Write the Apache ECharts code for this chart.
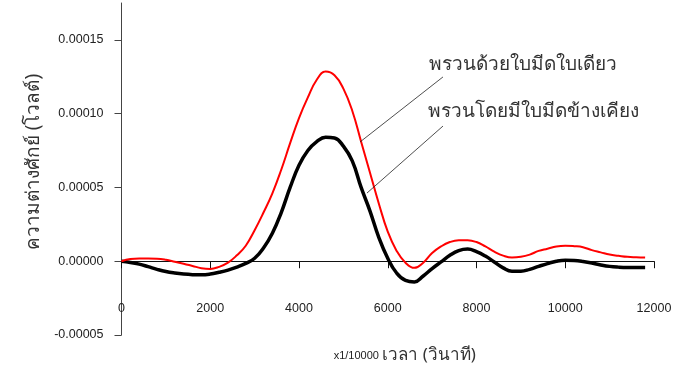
<!DOCTYPE html>
<html><head><meta charset="utf-8">
<script src="https://cdn.jsdelivr.net/npm/echarts@6/dist/echarts.min.js"></script>
<style>html,body{margin:0;padding:0;background:#fff}#c{width:689px;height:376px}</style>
</head><body><div id="c"></div>
<script>
// time axis (x1/10000 s)
const timeValues = [0,200,400,600,800,1000,1200,1400,1600,1800,2000,2200,2400,2600,2800,3000,3200,3400,3600,3800,4000,4200,4400,4600,4800,5000,5200,5400,5600,5800,6000,6200,6400,6600,6800,7000,7200,7400,7600,7800,8000,8200,8400,8600,8800,9000,9200,9400,9600,9800,10000,10200,10400,10600,10800,11000,11200,11400,11600,11800];
// single blade (red)
const redValues = [0,0.15e-5,0.18e-5,0.18e-5,0.17e-5,0.1e-5,-0.03e-5,-0.17e-5,-0.32e-5,-0.47e-5,-0.52e-5,-0.38e-5,-0.1e-5,0.4e-5,1.05e-5,2.1e-5,3.3e-5,4.6e-5,6.2e-5,8.0e-5,9.7e-5,11.1e-5,12.3e-5,12.85e-5,12.6e-5,11.7e-5,10.2e-5,8.1e-5,6.0e-5,3.9e-5,2.0e-5,0.7e-5,-0.1e-5,-0.45e-5,-0.1e-5,0.55e-5,1.0e-5,1.3e-5,1.42e-5,1.42e-5,1.3e-5,1.0e-5,0.65e-5,0.38e-5,0.25e-5,0.3e-5,0.45e-5,0.7e-5,0.85e-5,1.0e-5,1.05e-5,1.02e-5,0.95e-5,0.75e-5,0.6e-5,0.45e-5,0.37e-5,0.3e-5,0.27e-5,0.25e-5];
// with adjacent blades (black)
const blackValues = [0,-0.08e-5,-0.2e-5,-0.37e-5,-0.55e-5,-0.7e-5,-0.8e-5,-0.87e-5,-0.91e-5,-0.92e-5,-0.87e-5,-0.75e-5,-0.6e-5,-0.4e-5,-0.15e-5,0.2e-5,0.9e-5,1.9e-5,3.3e-5,5.0e-5,6.5e-5,7.5e-5,8.1e-5,8.4e-5,8.35e-5,7.8e-5,6.8e-5,5.0e-5,3.4e-5,1.6e-5,0.2e-5,-0.8e-5,-1.3e-5,-1.4e-5,-1.0e-5,-0.5e-5,-0.05e-5,0.4e-5,0.72e-5,0.82e-5,0.65e-5,0.35e-5,-0.05e-5,-0.45e-5,-0.68e-5,-0.68e-5,-0.55e-5,-0.35e-5,-0.16e-5,0.0,0.07e-5,0.05e-5,-0.02e-5,-0.12e-5,-0.25e-5,-0.35e-5,-0.4e-5,-0.42e-5,-0.42e-5,-0.42e-5];
const yTicks = [-0.00005, 0, 0.00005, 0.0001, 0.00015];
const seriesNames = ['พรวนด้วยใบมีดใบเดียว', 'พรวนโดยมีใบมีดข้างเคียง'];
const labelAnchors = [[6930, 13.3e-5], [6907, 10.15e-5]];
const leaderStarts = [[7245, 12.49e-5], [7245, 9.16e-5]];
const leaderEnds = [[5375, 8.08e-5], [5532, 4.62e-5]];

const chart = echarts.init(document.getElementById('c'), null, {renderer: 'canvas'});
const numFont = "'Liberation Sans', Arial, sans-serif";
const thaiFont = "'Noto Sans', 'DejaVu Sans', sans-serif";
const xCommon = {type: 'value', min: 0, max: 12000, interval: 2000, splitLine: {show: false}};
const option = {
  animation: false,
  backgroundColor: '#fff',
  grid: {left: 121.5, right: 35, top: 3, bottom: 41, containLabel: false, outerBoundsMode: 'none'},
  xAxis: [
    Object.assign({}, xCommon, {
      position: 'bottom',
      axisLine: {onZero: true, lineStyle: {color: '#111', width: 1}},
      axisTick: {show: true, length: 7, lineStyle: {color: '#111'}},
      axisLabel: {show: false}
    }),
    Object.assign({}, xCommon, {
      position: 'bottom',
      name: '{s|x1/10000} {b|เวลา (วินาที)}',
      nameLocation: 'middle', nameGap: 12,
      nameTextStyle: {padding: [0, 0, 0, 34], rich: {
        s: {fontSize: 11, fontFamily: numFont, color: '#222'},
        b: {fontSize: 17, fontFamily: thaiFont, color: '#333'}
      }},
      axisLine: {show: false, onZero: false},
      axisTick: {show: false},
      axisLabel: {margin: -33, fontSize: 12.5, fontFamily: numFont, color: '#222', formatter: v => String(v)}
    })
  ],
  yAxis: {
    type: 'value', min: -0.00005, max: 0.000175,
    name: 'ความต่างศักย์ (โวลต์)',
    nameLocation: 'middle', nameGap: 74, nameRotate: 90,
    nameTextStyle: {fontSize: 19, fontFamily: thaiFont, color: '#333', padding: [0, 0, 0, 14]},
    axisLine: {onZero: false, lineStyle: {color: '#444', width: 1}},
    axisTick: {show: true, length: 7, customValues: yTicks, lineStyle: {color: '#444'}},
    axisLabel: {margin: 18, fontSize: 12.5, fontFamily: numFont, color: '#222', customValues: yTicks,
      formatter: v => v.toFixed(5)},
    splitLine: {show: false}
  },
  series: [
    {name: seriesNames[0], type: 'line', smooth: 0.45, symbol: 'none', xAxisIndex: 0,
     data: timeValues.map((t, i) => [t, redValues[i]]),
     lineStyle: {color: '#ff0000', width: 2}, z: 3},
    {name: seriesNames[1], type: 'line', smooth: 0.45, symbol: 'none', xAxisIndex: 0,
     data: timeValues.map((t, i) => [t, blackValues[i]]),
     lineStyle: {color: '#000000', width: 3.5}, z: 2}
  ]
};
chart.setOption(option);

const graphics = [];
for (let i = 0; i < seriesNames.length; i++) {
  const a = chart.convertToPixel({xAxisIndex: 0, yAxisIndex: 0}, leaderStarts[i]);
  const b = chart.convertToPixel({xAxisIndex: 0, yAxisIndex: 0}, leaderEnds[i]);
  graphics.push({type: 'line', shape: {x1: a[0], y1: a[1], x2: b[0], y2: b[1]},
    style: {stroke: '#222', lineWidth: 0.8}, z: 10});
  const p = chart.convertToPixel({xAxisIndex: 0, yAxisIndex: 0}, labelAnchors[i]);
  graphics.push({type: 'text', x: p[0], y: p[1],
    style: {text: seriesNames[i], fontSize: 19, fontFamily: thaiFont, fill: '#333',
      align: 'left', verticalAlign: 'middle'}, z: 10});
}
chart.setOption({graphic: graphics});
</script></body></html>
